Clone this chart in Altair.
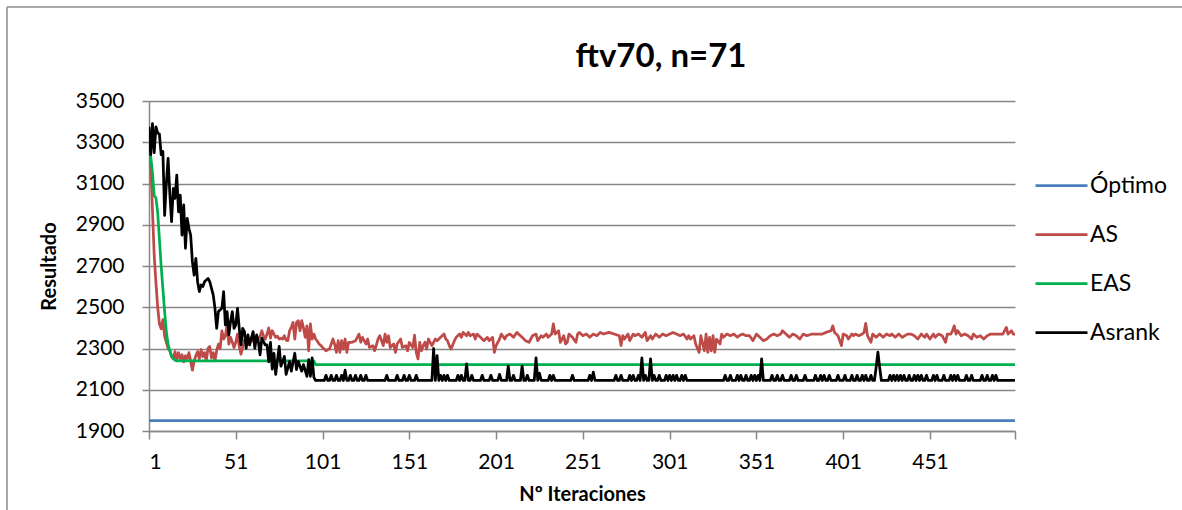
import altair as alt
import pandas as pd

# ---------------- data ----------------
series_names = ["Óptimo", "AS", "EAS", "Asrank"]
series_colors = ["#4A7EBB", "#BE4B48", "#00B050", "#000000"]

x_ticks = [1, 51, 101, 151, 201, 251, 301, 351, 401, 451, 500]
y_ticks = [1900, 2100, 2300, 2500, 2700, 2900, 3100, 3300, 3500]

# (iteration, result)
optimo_points = [(1, 1950), (500, 1950)]

eas_points = [
    (1, 3330), (2, 3230), (3, 3150), (4, 3040), (5, 3030), (6, 2960), (7, 2830),
    (8, 2700), (9, 2590), (10, 2480), (11, 2380), (12, 2320), (13, 2290),
    (14, 2265), (15, 2250), (16, 2243), (17, 2240), (96, 2240), (97, 2222),
    (500, 2222),
]

as_points = [
    (1, 3320), (2, 3200), (3, 2970), (4, 2750), (5, 2620), (6, 2500), (7, 2420),
    (8, 2395), (9, 2440), (10, 2360), (11, 2330), (12, 2300), (13, 2290), (14, 2260),
    (15, 2252), (16, 2285), (17, 2245), (18, 2280), (19, 2250), (20, 2270), (21, 2235),
    (22, 2265), (23, 2250), (24, 2280), (25, 2240), (26, 2195), (27, 2240), (28, 2265),
    (29, 2285), (30, 2250), (31, 2295), (32, 2260), (33, 2280), (34, 2240), (35, 2300),
    (36, 2310), (37, 2255), (38, 2280), (39, 2240), (40, 2290), (41, 2321), (42, 2300),
    (43, 2386), (44, 2346), (45, 2360), (46, 2419), (47, 2321), (48, 2354), (49, 2330),
    (50, 2305), (51, 2330), (52, 2370), (53, 2310), (54, 2272), (55, 2305), (56, 2340),
    (57, 2337), (58, 2321), (59, 2340), (60, 2354), (61, 2335), (62, 2329), (63, 2340),
    (64, 2346), (65, 2360), (66, 2386), (67, 2360), (68, 2346), (69, 2370), (70, 2400),
    (71, 2350), (72, 2386), (73, 2370), (74, 2354), (75, 2360), (76, 2346), (77, 2350),
    (78, 2346), (79, 2362), (80, 2340), (81, 2338), (82, 2386), (83, 2402), (84, 2427),
    (85, 2346), (86, 2427), (87, 2435), (88, 2386), (89, 2435), (90, 2400), (91, 2354),
    (92, 2410), (93, 2289), (94, 2419), (95, 2346), (96, 2370), (97, 2346), (98, 2335),
    (99, 2322), (100, 2315), (101, 2305), (102, 2297), (103, 2289), (104, 2295),
    (105, 2297), (106, 2322), (107, 2346), (108, 2320), (109, 2281), (110, 2338),
    (111, 2281), (112, 2338), (113, 2297), (114, 2346), (115, 2281), (116, 2330),
    (118, 2330), (120, 2338), (122, 2370), (123, 2330), (124, 2354), (126, 2322),
    (127, 2346), (128, 2305), (130, 2314), (131, 2289), (133, 2346), (134, 2362),
    (136, 2314), (137, 2370), (138, 2330), (139, 2362), (140, 2305), (142, 2322),
    (143, 2281), (144, 2322), (146, 2346), (147, 2305), (149, 2314), (150, 2289),
    (151, 2330), (153, 2305), (154, 2365), (155, 2281), (156, 2249), (157, 2330),
    (158, 2289), (159, 2314), (160, 2330), (161, 2297), (162, 2346), (163, 2330),
    (164, 2314), (166, 2346), (167, 2338), (169, 2354), (171, 2370), (172, 2346),
    (173, 2338), (174, 2314), (175, 2297), (177, 2338), (178, 2354), (180, 2370),
    (181, 2354), (182, 2378), (184, 2362), (185, 2378), (186, 2362), (188, 2370),
    (189, 2346), (190, 2370), (192, 2354), (194, 2338), (196, 2354), (197, 2338),
    (199, 2354), (200, 2281), (201, 2314), (203, 2346), (204, 2370), (206, 2346),
    (207, 2362), (209, 2370), (211, 2354), (213, 2378), (215, 2362), (216, 2354),
    (218, 2338), (220, 2330), (221, 2346), (222, 2362), (224, 2370), (225, 2338),
    (227, 2362), (228, 2354), (230, 2370), (231, 2354), (233, 2370), (234, 2419),
    (235, 2370), (237, 2386), (238, 2330), (239, 2345), (240, 2362), (241, 2322),
    (242, 2330), (243, 2370), (245, 2354), (247, 2330), (248, 2370), (249, 2378),
    (251, 2362), (253, 2370), (255, 2354), (257, 2370), (259, 2362), (261, 2378),
    (263, 2370), (266, 2378), (269, 2370), (272, 2362), (273, 2314), (274, 2362),
    (275, 2346), (277, 2370), (278, 2338), (280, 2370), (281, 2362), (283, 2370),
    (285, 2354), (287, 2378), (288, 2338), (290, 2362), (291, 2346), (293, 2370),
    (295, 2354), (297, 2370), (299, 2362), (301, 2370), (303, 2378), (305, 2370),
    (307, 2362), (309, 2370), (311, 2346), (312, 2362), (313, 2346), (315, 2362),
    (316, 2322), (318, 2281), (319, 2362), (321, 2289), (322, 2370), (323, 2281),
    (324, 2354), (325, 2289), (326, 2362), (327, 2281), (328, 2346), (330, 2322),
    (331, 2370), (332, 2354), (334, 2370), (336, 2362), (338, 2370), (340, 2354),
    (341, 2362), (343, 2370), (345, 2362), (347, 2362), (349, 2338), (351, 2370),
    (353, 2354), (355, 2338), (357, 2346), (359, 2362), (361, 2370), (363, 2362),
    (365, 2370), (366, 2386), (368, 2370), (370, 2354), (372, 2370), (374, 2362),
    (376, 2346), (378, 2370), (380, 2362), (383, 2370), (386, 2370), (389, 2370),
    (391, 2378), (394, 2386), (395, 2410), (396, 2378), (397, 2370), (398, 2362),
    (400, 2314), (401, 2370), (403, 2362), (404, 2346), (406, 2370), (407, 2362),
    (408, 2370), (410, 2362), (412, 2370), (413, 2378), (414, 2422), (415, 2362),
    (417, 2330), (418, 2370), (420, 2354), (422, 2370), (424, 2354), (426, 2370),
    (428, 2362), (429, 2370), (431, 2354), (433, 2370), (435, 2354), (438, 2370),
    (440, 2370), (442, 2362), (444, 2346), (446, 2370), (448, 2354), (449, 2370),
    (451, 2346), (453, 2370), (454, 2354), (456, 2370), (458, 2362), (460, 2330),
    (461, 2370), (463, 2370), (464, 2386), (465, 2410), (466, 2370), (467, 2386),
    (469, 2362), (471, 2370), (473, 2362), (475, 2346), (476, 2370), (478, 2354),
    (480, 2362), (482, 2346), (484, 2362), (486, 2370), (488, 2370), (490, 2370),
    (492, 2370), (493, 2370), (495, 2402), (496, 2370), (498, 2386), (499, 2370),
    (500, 2370),
]

asrank_points = [
    (1, 3375), (2, 3240), (3, 3390), (4, 3250), (5, 3375), (6, 3345), (7, 3340),
    (8, 3240), (9, 3255), (10, 2945), (11, 3100), (12, 3222), (13, 3050), (14, 2915),
    (15, 3076), (16, 3028), (17, 3141), (18, 2963), (19, 3044), (20, 2850), (21, 2996),
    (22, 2786), (23, 2931), (24, 2883), (25, 2850), (26, 2721), (27, 2656), (28, 2737),
    (29, 2624), (30, 2576), (31, 2608), (32, 2600), (33, 2624), (35, 2640), (36, 2624),
    (38, 2560), (39, 2495), (40, 2398), (41, 2479), (43, 2495), (44, 2576), (45, 2414),
    (46, 2479), (47, 2366), (48, 2430), (49, 2479), (50, 2398), (51, 2414), (52, 2495),
    (53, 2398), (54, 2317), (55, 2398), (56, 2382), (57, 2301), (58, 2366), (59, 2317),
    (60, 2350), (61, 2382), (62, 2301), (63, 2366), (64, 2333), (65, 2269), (66, 2350),
    (67, 2333), (68, 2317), (69, 2317), (70, 2236), (71, 2330), (72, 2200), (73, 2277),
    (74, 2174), (76, 2310), (77, 2214), (79, 2262), (80, 2174), (82, 2238), (83, 2190),
    (85, 2277), (86, 2198), (87, 2238), (89, 2190), (90, 2222), (92, 2165), (93, 2246),
    (94, 2165), (95, 2254), (96, 2160), (97, 2145), (102, 2145), (103, 2170),
    (104, 2145), (105, 2145), (106, 2170), (107, 2145), (108, 2145), (109, 2170),
    (110, 2145), (111, 2145), (112, 2170), (113, 2145), (114, 2195), (115, 2145),
    (116, 2145), (117, 2170), (118, 2145), (119, 2145), (120, 2170), (121, 2145),
    (122, 2145), (123, 2170), (124, 2145), (125, 2145), (126, 2170), (127, 2145),
    (137, 2145), (138, 2170), (139, 2145), (143, 2145), (144, 2170), (145, 2145),
    (147, 2145), (148, 2170), (149, 2145), (150, 2145), (151, 2170), (152, 2145),
    (154, 2145), (155, 2170), (156, 2145), (164, 2145), (165, 2300), (166, 2145),
    (167, 2265), (168, 2145), (169, 2170), (170, 2145), (171, 2170), (172, 2145),
    (173, 2170), (174, 2145), (178, 2145), (179, 2170), (180, 2145), (181, 2170),
    (182, 2145), (183, 2145), (184, 2225), (185, 2145), (186, 2145), (187, 2170),
    (188, 2145), (192, 2145), (193, 2170), (194, 2145), (197, 2145), (198, 2170),
    (199, 2145), (202, 2145), (203, 2175), (204, 2145), (207, 2145), (208, 2215),
    (209, 2145), (210, 2145), (211, 2170), (212, 2145), (215, 2145), (216, 2215),
    (217, 2145), (218, 2145), (219, 2170), (220, 2145), (223, 2145), (224, 2255),
    (225, 2145), (226, 2180), (227, 2145), (231, 2145), (232, 2170), (233, 2145),
    (234, 2170), (235, 2145), (244, 2145), (245, 2170), (246, 2145), (254, 2145),
    (255, 2170), (256, 2145), (257, 2185), (258, 2145), (269, 2145), (270, 2170),
    (271, 2145), (272, 2145), (273, 2170), (274, 2145), (277, 2145), (278, 2170),
    (279, 2145), (280, 2170), (281, 2145), (282, 2145), (283, 2170), (284, 2145),
    (285, 2255), (286, 2145), (287, 2170), (288, 2145), (289, 2145), (290, 2250),
    (291, 2145), (292, 2170), (293, 2145), (294, 2145), (295, 2170), (296, 2145),
    (298, 2145), (299, 2170), (300, 2145), (301, 2170), (302, 2145), (303, 2170),
    (304, 2145), (305, 2170), (306, 2145), (307, 2145), (308, 2170), (309, 2145),
    (310, 2170), (311, 2145), (332, 2145), (333, 2170), (334, 2145), (335, 2145),
    (336, 2170), (337, 2145), (339, 2145), (340, 2170), (341, 2145), (342, 2170),
    (343, 2145), (344, 2145), (345, 2170), (346, 2145), (347, 2145), (348, 2170),
    (349, 2145), (350, 2170), (351, 2145), (352, 2170), (353, 2145), (354, 2250),
    (355, 2145), (359, 2145), (360, 2170), (361, 2145), (362, 2145), (363, 2170),
    (364, 2145), (365, 2145), (366, 2170), (367, 2145), (370, 2145), (371, 2170),
    (372, 2145), (373, 2145), (374, 2170), (375, 2145), (378, 2145), (379, 2170),
    (380, 2145), (384, 2145), (385, 2170), (386, 2145), (387, 2145), (388, 2170),
    (389, 2145), (390, 2170), (391, 2145), (392, 2145), (393, 2170), (394, 2145),
    (397, 2145), (398, 2170), (399, 2145), (401, 2145), (402, 2170), (403, 2145),
    (405, 2145), (406, 2170), (407, 2145), (408, 2145), (409, 2170), (410, 2145),
    (411, 2145), (412, 2170), (413, 2145), (414, 2170), (415, 2145), (416, 2145),
    (417, 2170), (418, 2145), (419, 2145), (420, 2210), (421, 2282), (422, 2210),
    (423, 2145), (427, 2145), (428, 2170), (429, 2145), (430, 2170), (431, 2145),
    (432, 2170), (433, 2145), (434, 2170), (435, 2145), (436, 2170), (437, 2145),
    (438, 2145), (439, 2170), (440, 2145), (441, 2145), (442, 2170), (443, 2145),
    (444, 2170), (445, 2145), (446, 2170), (447, 2145), (448, 2145), (449, 2170),
    (450, 2145), (452, 2145), (453, 2170), (454, 2145), (455, 2170), (456, 2145),
    (458, 2145), (459, 2170), (460, 2145), (462, 2145), (463, 2170), (464, 2145),
    (465, 2170), (466, 2145), (467, 2170), (468, 2145), (471, 2145), (472, 2170),
    (473, 2145), (474, 2145), (475, 2170), (476, 2145), (480, 2145), (481, 2170),
    (482, 2145), (483, 2145), (484, 2170), (485, 2145), (486, 2145), (487, 2170),
    (488, 2145), (489, 2170), (490, 2145), (500, 2145),
]

# ---------------- table ----------------
rows = []
for order, (name, pts) in enumerate(zip(series_names,
                                        [optimo_points, as_points, eas_points, asrank_points])):
    for it, val in pts:
        rows.append({"Iteracion": it, "Resultado": val, "Serie": name, "orden": order})
df = pd.DataFrame(rows)

FONT = "Lato"

lines = (
    alt.Chart(df)
    .mark_line(strokeWidth=2.75, strokeJoin="round", clip=True)
    .encode(
        x=alt.X(
            "Iteracion:Q",
            scale=alt.Scale(domain=[1, 500], nice=False, zero=False),
            axis=alt.Axis(
                values=x_ticks,
                labelExpr="datum.value == 500 ? '' : datum.label",
                format="d",
                title="Nº Iteraciones",
                grid=False,
                tickSize=8,
                labelPadding=12,
                titlePadding=12,
            ),
        ),
        y=alt.Y(
            "Resultado:Q",
            scale=alt.Scale(domain=[1900, 3500], nice=False, zero=False),
            axis=alt.Axis(
                values=y_ticks,
                format="d",
                title="Resultado",
                grid=True,
                tickSize=7,
                labelPadding=18,
                titlePadding=16,
            ),
        ),
        color=alt.Color(
            "Serie:N",
            scale=alt.Scale(domain=series_names, range=series_colors),
            sort=series_names,
            legend=alt.Legend(
                title=None,
                orient="none",
                legendX=885,
                legendY=57,
                symbolType="stroke",
                symbolSize=2704,
                symbolStrokeWidth=2.75,
                labelFontSize=23,
                labelFont=FONT,
                labelColor="#000000",
                labelOffset=1,
                rowPadding=9,
                padding=0,
            ),
        ),
        order=alt.Order("orden:Q"),
    )
)

# outer chart-area frame: left and top edges (decoration outside the plot area)
frame_left = (
    alt.Chart(pd.DataFrame({"k": [0]}))
    .mark_rule(stroke="#8C8C8C", strokeWidth=1.5, clip=False)
    .encode(x=alt.value(-142), y=alt.value(-94), y2=alt.value(420))
)
frame_top = (
    alt.Chart(pd.DataFrame({"k": [0]}))
    .mark_rule(stroke="#8C8C8C", strokeWidth=1.5, clip=False)
    .encode(x=alt.value(-142), x2=alt.value(1040), y=alt.value(-94))
)

chart = (
    alt.layer(frame_left, frame_top, lines)
    .properties(
        width=866,
        height=330,
        title=alt.TitleParams(
            "ftv70, n=71",
            font=FONT,
            fontSize=33,
            fontWeight="bold",
            color="#000000",
            anchor="middle",
            frame="group",
            dx=79,
            offset=-68,
        ),
        autosize=alt.AutoSizeParams(type="none"),
        padding={"left": 149, "top": 101, "right": 167, "bottom": 79},
        background="white",
    )
    .configure_view(stroke=None)
    .configure_axis(
        labelFont=FONT,
        labelFontSize=21,
        labelColor="#000000",
        titleFont=FONT,
        titleFontSize=20,
        titleFontWeight="bold",
        titleColor="#000000",
        domainColor="#878787",
        domainWidth=1.5,
        tickColor="#878787",
        tickWidth=1.5,
        gridColor="#878787",
        gridWidth=1.5,
    )
)

chart.save("out.html", embed_options={"renderer": "svg", "actions": False})
